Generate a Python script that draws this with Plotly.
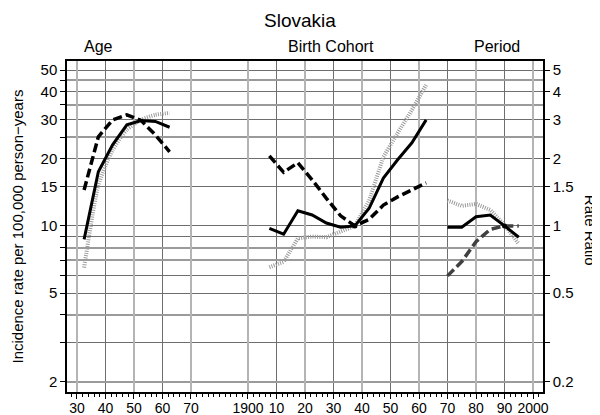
import math
import plotly.graph_objects as go

# ---------------- data ----------------
AGE = [32.5, 37.5, 42.5, 47.5, 52.5, 57.5, 62.5]
AGE_SOLID = [8.7, 17.5, 23.1, 28.4, 29.7, 29.4, 27.7]
AGE_DASHED = [14.5, 25.1, 29.9, 31.5, 29.7, 25.6, 21.5]
AGE_DOTTED = [6.5, 15.2, 21.9, 27.0, 29.9, 31.5, 32.1]

COHORT = [1907.5, 1912.5, 1917.5, 1922.5, 1927.5, 1932.5, 1937.5,
          1942.5, 1947.5, 1952.5, 1957.5, 1962.5]
COH_SOLID = [0.976, 0.918, 1.17, 1.12, 1.03, 0.987, 1.0, 1.20, 1.64, 1.98, 2.36, 2.99]
COH_DASHED = [2.06, 1.74, 1.92, 1.61, 1.33, 1.11, 1.0, 1.07, 1.24, 1.35, 1.45, 1.56]
COH_DOTTED = [0.653, 0.69, 0.88, 0.896, 0.89, 0.94, 1.0, 1.30, 2.04, 2.61, 3.31, 4.29]

PERIOD = [1970, 1975, 1980, 1985, 1990, 1995]
PER_SOLID = [0.987, 0.987, 1.10, 1.12, 1.0, 0.89]
PER_DASHED = [0.597, 0.692, 0.85, 0.966, 1.0, 1.0]
PER_DOTTED = [1.30, 1.23, 1.255, 1.18, 1.01, 0.83]

REF_YEARS = [1937.5, 1990]
REF_RR = [1.0, 1.0]

AGE_TICKS = [30, 40, 50, 60, 70]
YEAR_TICKS = [1900, 1910, 1920, 1930, 1940, 1950, 1960, 1970, 1980, 1990, 2000]
YEAR_TICK_TEXT = ["1900", "10", "20", "30", "40", "50", "60", "70", "80", "90", "2000"]

RATE_TICKS = [2, 3, 4, 5, 6, 7, 8, 9, 10, 15, 20, 25, 30, 35, 40, 45, 50]
RATE_LABELS = {2: "2", 5: "5", 10: "10", 15: "15", 20: "20", 30: "30", 40: "40", 50: "50"}
RATE_LIGHT = [2, 4, 7, 8, 25, 35, 45]

RR_TICKS = [0.2, 0.3, 0.5, 0.6, 0.9, 1, 1.5, 2, 3, 4, 5]
RR_LABELS = {0.2: "0.2", 0.5: "0.5", 1: "1", 1.5: "1.5", 2: "2", 3: "3", 4: "4", 5: "5"}

# age 90 on the shared axis corresponds to calendar year 1900
YEAR_OFFSET = 1810
RATE_PER_RR = 10

FONT = "Liberation Sans, Arial, Helvetica, sans-serif"
DARK_GRID = "#6e6e6e"
LIGHT_VGRID = "#b4b4b4"
LIGHT_HGRID = "#9a9a9a"
DOT_GREY = "#9a9a9a"

# the page body has an 8px margin, so the figure is sized to fill the rest of the window
W, H = 592, 407
PLOT_W, PLOT_H = 476, 331


def yr(vals):
    return [v - YEAR_OFFSET for v in vals]


fig = go.Figure()

solid = dict(color="black", width=3)
dashed = dict(color="black", width=3.5, dash="9px,4px")
dotted = dict(color=DOT_GREY, width=4, dash="1px,1.3px")

# Age panel (rates, left axis)
fig.add_trace(go.Scatter(x=AGE, y=AGE_DOTTED, mode="lines", line=dotted,
                         line_shape="spline", line_smoothing=0.6))
fig.add_trace(go.Scatter(x=AGE, y=AGE_DASHED, mode="lines", line=dashed))
fig.add_trace(go.Scatter(x=AGE, y=AGE_SOLID, mode="lines", line=solid))

# Cohort panel (rate ratios, right axis)
fig.add_trace(go.Scatter(x=yr(COHORT), y=COH_DOTTED, mode="lines", line=dotted, yaxis="y2"))
fig.add_trace(go.Scatter(x=yr(COHORT), y=COH_DASHED, mode="lines", line=dashed, yaxis="y2"))
fig.add_trace(go.Scatter(x=yr(COHORT), y=COH_SOLID, mode="lines", line=solid, yaxis="y2"))

# Period panel
fig.add_trace(go.Scatter(x=yr(PERIOD), y=PER_DOTTED, mode="lines", line=dotted, yaxis="y2"))
fig.add_trace(go.Scatter(x=yr(PERIOD), y=PER_DASHED, mode="lines",
                         line=dict(color="#404040", width=3.5, dash="9px,4px"), yaxis="y2"))
fig.add_trace(go.Scatter(x=yr(PERIOD), y=PER_SOLID, mode="lines", line=solid, yaxis="y2"))

# reference points
fig.add_trace(go.Scatter(x=yr(REF_YEARS), y=REF_RR, mode="markers",
                         marker=dict(color="black", size=5), yaxis="y2"))

# dummy traces so the overlay grid axes get drawn
fig.add_trace(go.Scatter(x=[None], y=[None], xaxis="x2", yaxis="y", mode="lines", hoverinfo="skip"))
fig.add_trace(go.Scatter(x=[None], y=[None], xaxis="x", yaxis="y3", mode="lines", hoverinfo="skip"))

x_range = [26.5, 193.5]
x_vals = AGE_TICKS + yr(YEAR_TICKS)
x_text = [str(a) for a in AGE_TICKS] + YEAR_TICK_TEXT
x_light = [v for v in x_vals if (v // 10) % 2 == 1]
x_minor = [v for v in range(28, 194, 2) if v not in x_vals]

y_lo, y_hi = 1.80, 54.9
y_range = [math.log10(y_lo), math.log10(y_hi)]
rr_range = [math.log10(y_lo / RATE_PER_RR), math.log10(y_hi / RATE_PER_RR)]

tickfont = dict(family=FONT, size=15, color="black")
xtickfont = dict(family=FONT, size=14, color="black")

fig.update_layout(
    width=W, height=H,
    margin=dict(l=59, r=W - 59 - PLOT_W, t=53, b=H - 53 - PLOT_H, autoexpand=False),
    paper_bgcolor="white", plot_bgcolor="white",
    showlegend=False,
    font=dict(family=FONT, size=15, color="black"),
    title=dict(text="Slovakia", x=(300 - 8) / W, xanchor="center", y=1 - 12 / H, yanchor="middle",
               font=dict(family=FONT, size=19, color="black")),
    xaxis=dict(range=x_range, tickmode="array", tickvals=x_vals, ticktext=x_text,
               showgrid=True, gridcolor=DARK_GRID, gridwidth=1, zeroline=False,
               ticks="outside", ticklen=5, tickwidth=1, tickcolor="black",
               ticklabelstandoff=-3,
               showline=True, mirror=True, linecolor="black", linewidth=1.5,
               tickfont=xtickfont, automargin=False,
               minor=dict(tickmode="array", tickvals=x_minor, ticks="outside", ticklen=3,
                          tickwidth=1, tickcolor="black", showgrid=False)),
    xaxis2=dict(range=x_range, overlaying="x", tickmode="array", tickvals=x_light,
                showgrid=True, gridcolor=LIGHT_VGRID, gridwidth=2, zeroline=False,
                showticklabels=False, ticks="", showline=False, automargin=False),
    yaxis=dict(type="log", range=y_range, tickmode="array", tickvals=RATE_TICKS,
               ticktext=[RATE_LABELS.get(v, "") for v in RATE_TICKS],
               showgrid=True, gridcolor=DARK_GRID, gridwidth=1, zeroline=False,
               ticks="outside", ticklen=5, tickwidth=1, tickcolor="black",
               showline=True, mirror=True, linecolor="black", linewidth=1.5,
               tickfont=tickfont, automargin=False),
    yaxis2=dict(type="log", range=rr_range, overlaying="y", side="right", tickmode="array",
                tickvals=RR_TICKS, ticktext=[RR_LABELS.get(v, "") for v in RR_TICKS],
                showgrid=False, zeroline=False, ticks="outside", ticklen=5, tickwidth=1,
                tickcolor="black", showline=True, linecolor="black", linewidth=1.5,
                tickfont=tickfont, automargin=False),
    yaxis3=dict(type="log", range=y_range, overlaying="y", tickmode="array", tickvals=RATE_LIGHT,
                showgrid=True, gridcolor=LIGHT_HGRID, gridwidth=2, zeroline=False,
                showticklabels=False, ticks="", showline=False, automargin=False),
)

label_y = 1 + 14 / PLOT_H
for txt, xpos in [("Age", 37.7), ("Birth Cohort", 119.1), ("Period", 177.4)]:
    fig.add_annotation(text=txt, x=xpos, xref="x", y=label_y, yref="paper",
                       showarrow=False, xanchor="center", yanchor="middle",
                       font=dict(family=FONT, size=16, color="black"))

fig.add_annotation(text="Incidence rate per 100,000 person\u2212years", textangle=-90,
                   x=(9 - 59) / PLOT_W, xref="paper", y=0.5, yref="paper",
                   showarrow=False, xanchor="center", yanchor="middle",
                   font=dict(family=FONT, size=15, color="black"))
fig.add_annotation(text="Rate Ratio", textangle=90,
                   x=(582 - 59) / PLOT_W, xref="paper", y=0.49, yref="paper",
                   showarrow=False, xanchor="center", yanchor="middle",
                   font=dict(family=FONT, size=15, color="black"))

fig.write_html("out.html")
